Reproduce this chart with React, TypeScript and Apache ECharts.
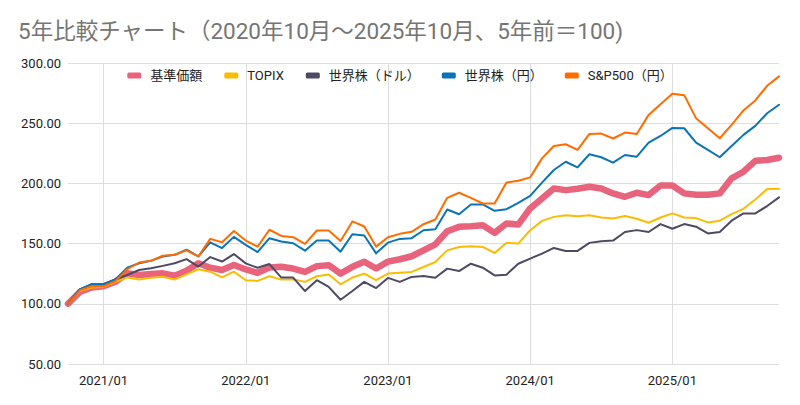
import React, { useEffect, useRef } from "react";
import * as echarts from "echarts";

const categories = [
  "2020/10", "2020/11", "2020/12",
  "2021/01", "2021/02", "2021/03", "2021/04", "2021/05", "2021/06", "2021/07", "2021/08", "2021/09", "2021/10", "2021/11", "2021/12",
  "2022/01", "2022/02", "2022/03", "2022/04", "2022/05", "2022/06", "2022/07", "2022/08", "2022/09", "2022/10", "2022/11", "2022/12",
  "2023/01", "2023/02", "2023/03", "2023/04", "2023/05", "2023/06", "2023/07", "2023/08", "2023/09", "2023/10", "2023/11", "2023/12",
  "2024/01", "2024/02", "2024/03", "2024/04", "2024/05", "2024/06", "2024/07", "2024/08", "2024/09", "2024/10", "2024/11", "2024/12",
  "2025/01", "2025/02", "2025/03", "2025/04", "2025/05", "2025/06", "2025/07", "2025/08", "2025/09", "2025/10",
];

const fundNav = [
  100, 109.8, 113.5, 114.6, 118.3, 125.3, 123.9, 124.7, 125.3, 123.3, 127.5, 133.7, 130, 128.1, 132.3,
  128.5, 125.7, 130.2, 130.7, 129.3, 126.5, 131.3, 132.1, 125.1, 130.7, 134.9, 129.3,
  135, 137, 139.5, 144.4, 149.4, 160.3, 163.9, 164.4, 165.3, 158.9, 166.7, 165.8,
  179.2, 187.5, 195.8, 194.4, 195.6, 197.2, 195.8, 191.7, 188.9, 192.2, 190.3, 198.3,
  198.3, 191.7, 190.6, 190.6, 191.7, 204.2, 209.7, 218.8, 219.4, 221.3,
];

const topix = [
  100, 110.5, 113.5, 114, 118.3, 121.9, 120.2, 121.6, 122.5, 120.2, 124.4, 128.7, 126.7, 121.9, 126.7,
  119.6, 119, 122.9, 120.1, 120.4, 118.2, 122.9, 124.3, 116.2, 121.8, 125.1, 119.6,
  125.1, 125.7, 126.5, 130.6, 134.7, 144.4, 147.2, 147.8, 147.2, 142.2, 150.6, 150,
  161.1, 168.9, 172.2, 173.6, 172.8, 173.6, 171.7, 170.9, 172.9, 170.6, 167.3, 171.7,
  175.1, 171.7, 171.2, 167.6, 169, 174.5, 178.9, 186.7, 195.3, 195.6,
];

const worldUsd = [
  100, 112, 116.3, 116, 120.2, 123.9, 128.1, 129.5, 131.5, 133.7, 137.1, 130.9, 138.8, 135.1, 141.3,
  133.6, 129.9, 133, 121.8, 121.8, 110.6, 119.6, 114, 103.4, 110.6, 118.2, 113.1,
  121.5, 118.2, 122.3, 123.1, 121.7, 129.2, 127.2, 133.3, 130, 123.6, 124.2, 133.3,
  137.5, 141.7, 146.4, 143.9, 143.9, 150.6, 152, 152.5, 159.6, 161.2, 159.6, 166.2,
  162.3, 166.2, 164, 158.4, 159.6, 169, 175.1, 175.1, 181.2, 188.4,
];

const worldJpy = [
  100, 112, 116.3, 116.3, 120.2, 130, 133.7, 135.7, 139.3, 140.7, 144.9, 139.3, 151.1, 146.3, 155.6,
  149, 143, 154.5, 151.7, 150.3, 144.1, 152.5, 152.5, 143.3, 157.8, 156.7, 141.9,
  150.8, 153.9, 154.5, 161.1, 161.9, 178.3, 174.4, 182.5, 182.5, 177.2, 178.6, 183.9,
  189.7, 200.6, 211.1, 218, 213.3, 224.2, 221.7, 217.2, 223.6, 222.2, 233.9, 239.4,
  246.1, 245.8, 233.9, 227.8, 221.7, 231.1, 240.3, 247.8, 258.3, 265.3,
];

const sp500Jpy = [
  100, 111.2, 114.6, 114.6, 118.8, 128.7, 134.3, 135.7, 139.9, 140.7, 144.4, 139.3, 153.9, 151.1, 160.4,
  152.5, 147.5, 161.5, 156.4, 155.3, 149.7, 160.9, 160.9, 152.2, 168.4, 164.2, 147.5,
  155.3, 158.1, 159.8, 166.1, 170, 188, 192.2, 188, 183.3, 183.3, 200.8, 202.2,
  205, 220.8, 231.1, 232.5, 227.8, 241.1, 241.4, 237.3, 242.2, 241.1, 256.9, 265.8,
  274.4, 273.3, 254.2, 245.8, 237.5, 248.6, 260.6, 268.9, 281.1, 288.9,
];

const seriesNames = ["基準価額", "TOPIX", "世界株（ドル）", "世界株（円）", "S&P500（円）"];
const seriesData = [fundNav, topix, worldUsd, worldJpy, sp500Jpy];
const seriesColors = ["#e8647c", "#fbbc04", "#4e4a64", "#0b74b5", "#ff6d01"];
const seriesWidths = [6.5, 2, 2, 2, 2];

const FONT = "Roboto, 'Noto Sans CJK JP', 'Noto Sans', sans-serif";

const isJanuary = (_i: number, v: string) => v.endsWith("/01");

export default function App() {
  const ref = useRef<HTMLDivElement>(null);
  useEffect(() => {
    if (!ref.current) return;
    const chart = echarts.init(ref.current, null, { renderer: "svg" });
    chart.setOption({
      animation: false,
      backgroundColor: "#ffffff",
      textStyle: { fontFamily: FONT },
      title: {
        text: "5年比較チャート（2020年10月～2025年10月、5年前＝100)",
        left: 13,
        top: 15,
        textStyle: { fontFamily: FONT, fontSize: 22.5, fontWeight: "normal", color: "#757575" },
      },
      legend: {
        top: 64,
        left: "center",
        icon: "roundRect",
        itemWidth: 14,
        itemHeight: 6,
        itemGap: 22,
        textStyle: { fontFamily: FONT, fontSize: 13, color: "#222222", padding: [0, 0, 0, 4] },
        data: seriesNames,
      },
      grid: { left: 68, right: 21, top: 63, bottom: 41, containLabel: false },
      xAxis: {
        type: "category",
        data: categories,
        boundaryGap: false,
        axisLine: { show: false },
        axisTick: { show: false },
        axisLabel: {
          interval: isJanuary,
          color: "#222222",
          fontSize: 13,
          fontFamily: FONT,
          margin: 10,
        },
        splitLine: { show: true, interval: isJanuary, lineStyle: { color: "#dddddd", width: 1 } },
      },
      yAxis: {
        type: "value",
        min: 50,
        max: 300,
        interval: 50,
        axisLine: { show: false },
        axisTick: { show: false },
        axisLabel: {
          color: "#222222",
          fontSize: 13,
          fontFamily: FONT,
          margin: 7,
          formatter: (v: number) => v.toFixed(2),
        },
        splitLine: { lineStyle: { color: "#dddddd", width: 1 } },
      },
      series: seriesNames.map((name, i) => ({
        name,
        type: "line",
        data: seriesData[i],
        showSymbol: false,
        symbol: "none",
        color: seriesColors[i],
        lineStyle: { color: seriesColors[i], width: seriesWidths[i], join: "round", cap: "round" },
        z: 2 + i,
      })),
    });
    return () => chart.dispose();
  }, []);
  return (
    <div
      ref={ref}
      style={{ position: "fixed", left: 0, top: 0, width: 800, height: 405 }}
    />
  );
}
